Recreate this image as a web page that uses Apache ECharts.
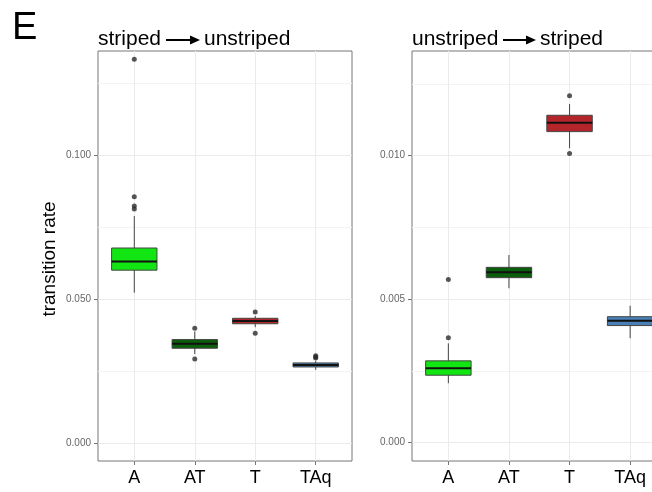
<!DOCTYPE html>
<html>
<head>
<meta charset="utf-8">
<script src="https://cdn.jsdelivr.net/npm/echarts@6/dist/echarts.min.js"></script>
<style>
  html, body { margin: 0; padding: 0; background: #fff; }
  #main { width: 652px; height: 492px; }
</style>
</head>
<body>
<div id="main"></div>
<script>
const categories = ["A", "AT", "T", "TAq"];
const boxColors = ["#12E612", "#0B5E0B", "#B2252B", "#4A80B6"];

// [min, q1, median, q3, max] per category
const leftStats = [
  [0.0522, 0.0600, 0.0630, 0.0677, 0.0788],
  [0.0309, 0.0329, 0.0345, 0.0359, 0.0387],
  [0.0402, 0.0414, 0.0424, 0.0433, 0.0441],
  [0.0254, 0.0264, 0.0271, 0.0278, 0.0285],
];
const leftOutliers = [
  [1, 0.1332], [1, 0.0855], [1, 0.0823], [1, 0.0812],
  [2, 0.0398], [2, 0.0292],
  [3, 0.0455], [3, 0.0381],
  [4, 0.0303], [4, 0.0299], [4, 0.0295],
];
const rightStats = [
  [0.00207, 0.00235, 0.00259, 0.00285, 0.00346],
  [0.00538, 0.00575, 0.00594, 0.00611, 0.00654],
  [0.01026, 0.01084, 0.01115, 0.01141, 0.01180],
  [0.00364, 0.00408, 0.00425, 0.00439, 0.00477],
];
const rightOutliers = [
  [1, 0.00569], [1, 0.00366],
  [3, 0.01209], [3, 0.01008],
];

const leftTicks = [0, 0.05, 0.1];
const leftMinorTicks = [0.025, 0.075, 0.125];
const rightTicks = [0, 0.005, 0.01];
const rightMinorTicks = [0.0025, 0.0075, 0.0125];
const leftRange = [-0.00625, 0.1361];
const rightRange = [-0.00064, 0.01365];

const FONT = "Liberation Sans";

function boxData(stats) {
  return stats.map((s, i) => [i + 1].concat(s));
}

function renderBox(params, api) {
  const x = api.value(0);
  const pLo = api.coord([x, api.value(1)]);
  const pQ1 = api.coord([x, api.value(2)]);
  const pMed = api.coord([x, api.value(3)]);
  const pQ3 = api.coord([x, api.value(4)]);
  const pHi = api.coord([x, api.value(5)]);
  const halfW = api.size([0.75, 0])[0] / 2;
  return {
    type: "group",
    children: [
      {
        type: "line",
        shape: { x1: pHi[0], y1: pHi[1], x2: pLo[0], y2: pLo[1] },
        style: { stroke: "#444", lineWidth: 1 },
      },
      {
        type: "rect",
        shape: { x: pQ3[0] - halfW, y: pQ3[1], width: halfW * 2, height: pQ1[1] - pQ3[1] },
        style: { fill: boxColors[params.dataIndex], stroke: "#444", lineWidth: 1 },
      },
      {
        type: "line",
        shape: { x1: pMed[0] - halfW, y1: pMed[1], x2: pMed[0] + halfW, y2: pMed[1] },
        style: { stroke: "#111", lineWidth: 2 },
      },
    ],
  };
}

function xAxisFor(gridIndex) {
  return {
    type: "value",
    gridIndex: gridIndex,
    min: 0.4,
    max: 4.6,
    axisLine: { show: false, onZero: false },
    axisTick: { show: true, length: 4, customValues: [1, 2, 3, 4], lineStyle: { color: "#777" } },
    axisLabel: {
      customValues: [1, 2, 3, 4],
      formatter: (v) => categories[Math.round(v) - 1],
      color: "#000",
      fontFamily: FONT,
      fontSize: 18,
      margin: 8,
    },
    splitLine: { show: true, lineStyle: { color: "#EBEBEB", width: 1 } },
  };
}

function yAxisFor(gridIndex, range, ticks) {
  return {
    type: "value",
    gridIndex: gridIndex,
    min: range[0],
    max: range[1],
    axisLine: { show: false, onZero: false },
    axisTick: { show: true, length: 4, customValues: ticks, lineStyle: { color: "#777" } },
    axisLabel: {
      customValues: ticks,
      formatter: (v) => v.toFixed(3),
      color: "#666",
      fontFamily: FONT,
      fontSize: 10,
      margin: 7,
    },
    splitLine: { show: true, lineStyle: { color: "#EBEBEB", width: 1 } },
  };
}

function minorYAxisFor(gridIndex, range, ticks) {
  return {
    type: "value",
    gridIndex: gridIndex,
    position: "left",
    min: range[0],
    max: range[1],
    axisLine: { show: false, onZero: false },
    axisTick: { show: false, customValues: ticks },
    axisLabel: { show: false, customValues: ticks },
    splitLine: { show: true, lineStyle: { color: "#F3F3F3", width: 1 } },
  };
}

function arrow(x1, x2, y) {
  return [
    { type: "line", shape: { x1: x1, y1: y, x2: x2 - 8, y2: y }, style: { stroke: "#000", lineWidth: 2 } },
    { type: "polygon", shape: { points: [[x2 - 10, y - 4.5], [x2, y], [x2 - 10, y + 4.5]] }, style: { fill: "#000" } },
  ];
}

function titleText(x, text) {
  return {
    type: "text",
    x: x,
    y: 39,
    style: { text: text, fontFamily: FONT, fontSize: 21, fill: "#000", verticalAlign: "middle" },
  };
}

const gridBase = {
  top: 51,
  height: 410,
  show: true,
  borderColor: "#777",
  borderWidth: 1,
  backgroundColor: "#fff",
  outerBoundsMode: "none",
  containLabel: false,
};

const option = {
  animation: false,
  backgroundColor: "#fff",
  grid: [
    Object.assign({ left: 98, width: 254 }, gridBase),
    Object.assign({ left: 412, width: 254.5 }, gridBase),
  ],
  xAxis: [xAxisFor(0), xAxisFor(1)],
  yAxis: [
    yAxisFor(0, leftRange, leftTicks),
    minorYAxisFor(0, leftRange, leftMinorTicks),
    yAxisFor(1, rightRange, rightTicks),
    minorYAxisFor(1, rightRange, rightMinorTicks),
  ],
  series: [
    {
      type: "custom",
      xAxisIndex: 0,
      yAxisIndex: 0,
      renderItem: renderBox,
      encode: { x: 0, y: [1, 2, 3, 4, 5] },
      data: boxData(leftStats),
      z: 3,
    },
    {
      type: "scatter",
      xAxisIndex: 0,
      yAxisIndex: 0,
      symbolSize: 5,
      itemStyle: { color: "#2a2a2a" },
      data: leftOutliers,
      z: 4,
    },
    {
      type: "custom",
      xAxisIndex: 1,
      yAxisIndex: 2,
      renderItem: renderBox,
      encode: { x: 0, y: [1, 2, 3, 4, 5] },
      data: boxData(rightStats),
      z: 3,
    },
    {
      type: "scatter",
      xAxisIndex: 1,
      yAxisIndex: 2,
      symbolSize: 5,
      itemStyle: { color: "#2a2a2a" },
      data: rightOutliers,
      z: 4,
    },
  ],
  graphic: [
    { type: "text", x: 12, y: 29, style: { text: "E", fontFamily: FONT, fontSize: 38, fill: "#000", verticalAlign: "middle" } },
    titleText(98, "striped"),
    ...arrow(166, 200, 40),
    titleText(204, "unstriped"),
    titleText(412, "unstriped"),
    ...arrow(503, 536, 40),
    titleText(540, "striped"),
    {
      type: "text",
      x: 50,
      y: 259,
      rotation: Math.PI / 2,
      style: { text: "transition rate", fontFamily: FONT, fontSize: 19, fill: "#000", align: "center", verticalAlign: "middle" },
    },
  ],
};

addEventListener("load", () => {
  const chart = echarts.init(document.getElementById("main"));
  chart.setOption(option);
});
</script>
</body>
</html>
